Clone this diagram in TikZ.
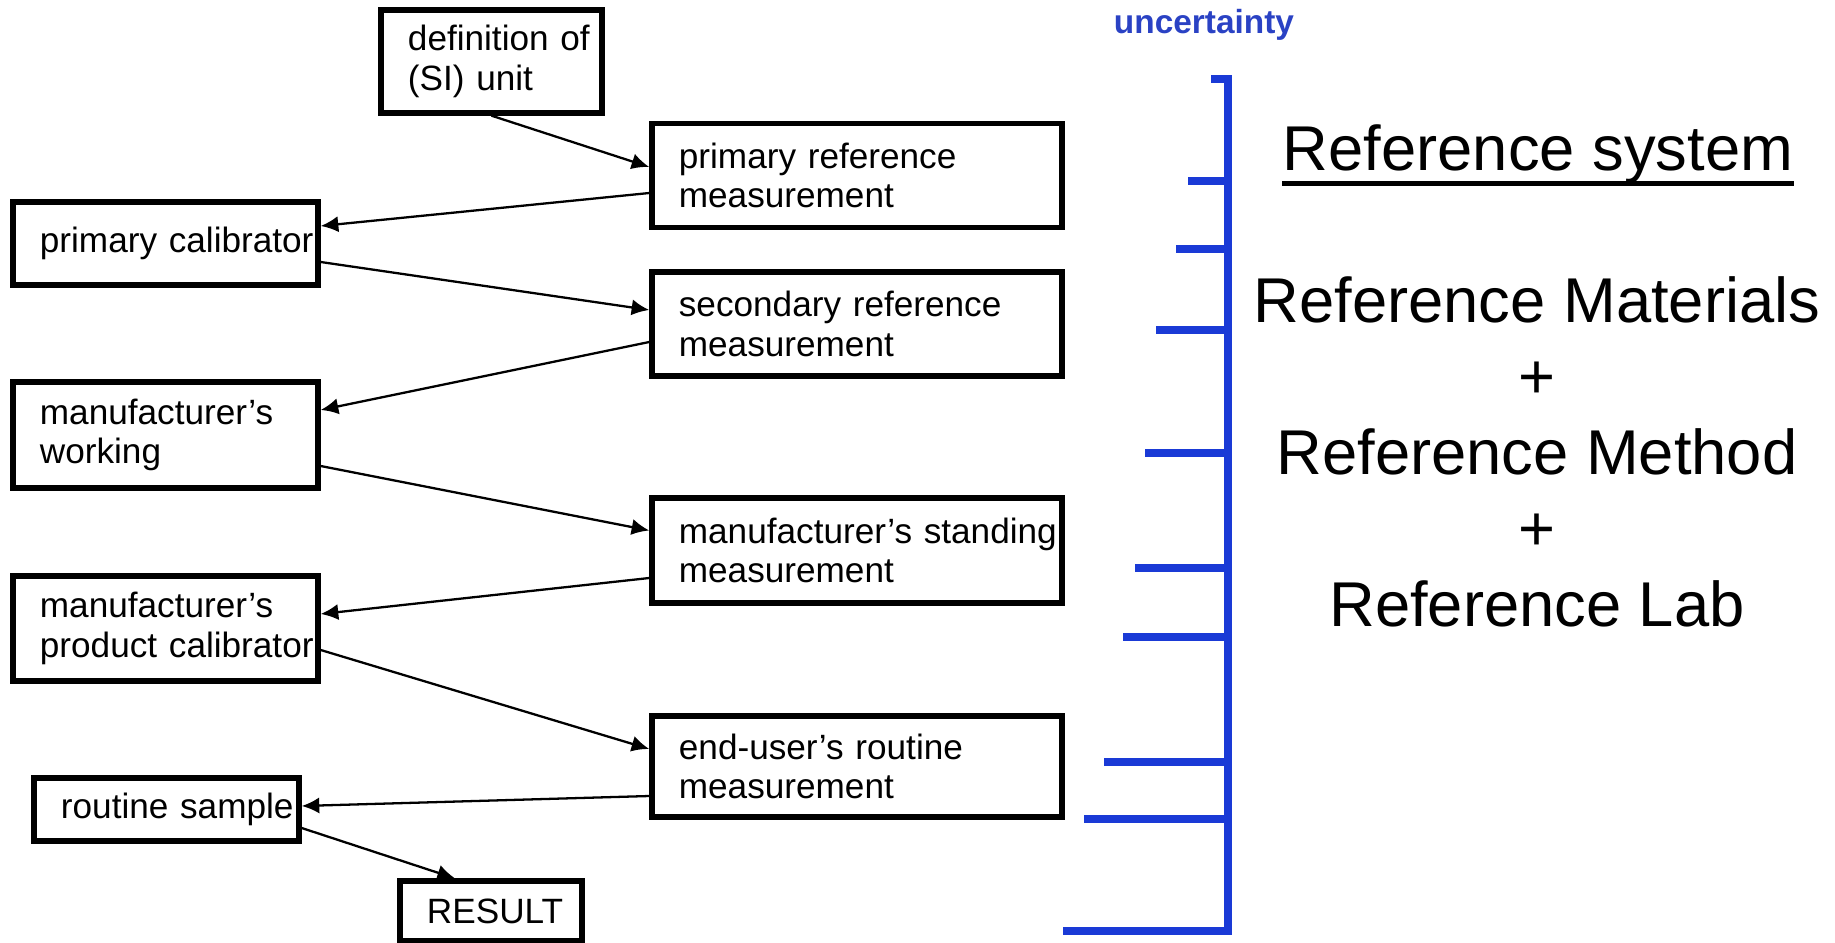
\documentclass[tikz,border=0pt]{standalone}
\usepackage{fontspec}
\setmainfont{Liberation Sans}
\usetikzlibrary{arrows.meta}

\hyphenpenalty=10000
\exhyphenpenalty=10000

\definecolor{axisblue}{RGB}{26,58,214}
\definecolor{labelblue}{RGB}{42,66,196}

\tikzset{
  stage/.style={draw, line width=1.5pt, align=left, inner xsep=0.27cm, inner ysep=0pt,
    font=\fontsize{10}{11.3}\selectfont},
  rightbox/.style={stage, text width=3.56cm, minimum height=1.04cm},
  leftbox/.style={stage, text width=2.51cm, minimum height=1.05cm},
  link/.style={-{Latex[length=5pt,width=4.6pt]}, line width=0.65pt},
  axisline/.style={draw=axisblue, line width=2pt},
  bigtext/.style={font=\fontsize{18}{21.6}\selectfont, inner sep=0pt}
}

\begin{document}
\begin{tikzpicture}[x=0.01cm, y=-0.01cm]

            \useasboundingbox (0,0) rectangle (1835,943);

            % traceability chain
            \node[stage, text width=1.67cm, minimum height=1.03cm] (defunit) at (491.5,61.5) {definition~of\\(SI) unit};
            \node[rightbox] (primref) at (857,175.5) {primary reference\\measurement};
            \node[leftbox, minimum height=0.83cm] (primcal) at (165.5,243.5) {primary~calibrator};
            \node[rightbox] (secref) at (857,324) {secondary reference\\measurement};
            \node[leftbox, minimum height=1.06cm] (mfrwork) at (165.5,435) {manufacturer's\\working};
            \node[rightbox, minimum height=1.05cm] (mfrstand) at (857,550.5) {manufacturer's~standing\\measurement};
            \node[leftbox] (mfrprod) at (165.5,628.5) {manufacturer's\\product~calibrator};
            \node[rightbox, minimum height=1.01cm] (enduser) at (857,766.5) {end-user's routine\\measurement};
            \node[stage, text width=2.11cm, minimum height=0.63cm] (sample) at (166.5,809.5) {routine~sample};
            \node[stage, text width=1.28cm, minimum height=0.60cm] (result) at (491,911) {RESULT};

            \draw[link] (defunit.south) -- ([yshift=0.085cm]primref.west);
            \draw[link] ([yshift=-0.175cm]primref.west) -- ([yshift=0.175cm]primcal.east);
            \draw[link] ([yshift=-0.185cm]primcal.east) -- ([yshift=0.14cm]secref.west);
            \draw[link] ([yshift=-0.18cm]secref.west) -- ([yshift=0.25cm]mfrwork.east);
            \draw[link] ([yshift=-0.31cm]mfrwork.east) -- ([yshift=0.2cm]mfrstand.west);
            \draw[link] ([yshift=-0.275cm]mfrstand.west) -- ([yshift=0.145cm]mfrprod.east);
            \draw[link] ([yshift=-0.215cm]mfrprod.east) -- ([yshift=0.175cm]enduser.west);
            \draw[link] ([yshift=-0.295cm]enduser.west) -- ([yshift=0.035cm]sample.east);
            \draw[link] ([yshift=-0.185cm]sample.east) -- ([xshift=-0.36cm]result.north);

            % uncertainty scale
            \node[font=\fontsize{9.5}{11}\selectfont\bfseries, text=labelblue, anchor=base, inner sep=0pt] (uncert) at (1204,34) {uncertainty};
            \draw[axisline] (1211,79) -- (1228,79) -- (1228,931) -- (1063,931);
            \draw[axisline] (1188,181) -- (1228,181);
            \draw[axisline] (1176,249) -- (1228,249);
            \draw[axisline] (1156,330) -- (1228,330);
            \draw[axisline] (1145,453) -- (1228,453);
            \draw[axisline] (1135,568) -- (1228,568);
            \draw[axisline] (1123,637) -- (1228,637);
            \draw[axisline] (1104,762) -- (1228,762);
            \draw[axisline] (1084,819) -- (1228,819);

            % reference system
            \node[bigtext, anchor=base] (refsys) at (1538,171) {Reference system};
            \draw[line width=1.2pt] ([yshift=-0.125cm]refsys.base west) -- ([yshift=-0.125cm]refsys.base east);
            \node[bigtext, anchor=base] (refmat) at (1537,323) {Reference Materials};
            \node[bigtext, anchor=base] (plusa) at (1537,399) {+};
            \node[bigtext, anchor=base] (refmeth) at (1537,475) {Reference Method};
            \node[bigtext, anchor=base] (plusb) at (1537,551) {+};
            \node[bigtext, anchor=base] (reflab) at (1537,627) {Reference Lab};

        \end{tikzpicture}
\end{document}
